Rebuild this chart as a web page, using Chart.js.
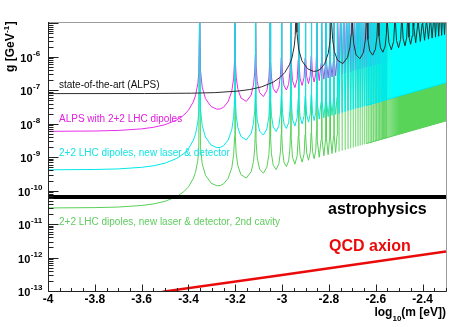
<!DOCTYPE html>
<html><head><meta charset="utf-8">
<script src="https://cdn.jsdelivr.net/npm/chart.js@4.4.0/dist/chart.umd.min.js"></script>
<style>html,body{margin:0;padding:0;background:#fff;}canvas{display:block;}</style>
</head><body>
<canvas id="c" width="471" height="327"></canvas>
<script>
// ---------- axis ticks ----------
const xTickValues = [-4, -3.8, -3.6, -3.4, -3.2, -3, -2.8, -2.6, -2.4];
const xTickLabels = ['-4', '-3.8', '-3.6', '-3.4', '-3.2', '-3', '-2.8', '-2.6', '-2.4'];
const yTickExponents = [-13, -12, -11, -10, -9, -8, -7, -6];
const yTickBase = '10';
const yTickExpLabels = ['-13', '-12', '-11', '-10', '-9', '-8', '-7', '-6'];

// ---------- data: log10(m [eV]) and log10(g [GeV^-1]); -4.5 = off-scale peak ----------
const lhcLogM = [-4.000,-3.800,-3.700,-3.600,-3.550,-3.500,-3.450,-3.420,-3.400,-3.380,-3.370,-3.360,-3.356,-3.352,
-3.3488,-3.3414,-3.3274,-3.3035,-3.2789,-3.2640,-3.2499,-3.2305,-3.2149,-3.2070,-3.2031,-3.2015,
-3.1999,-3.1961,-3.1888,-3.1759,-3.1530,-3.1323,-3.1223,-3.1171,-3.1145,-3.1134,
-3.1113,-3.1063,-3.0961,-3.0800,-3.0650,-3.0565,-3.0526,-3.0510,
-3.0493,-3.0456,-3.0378,-3.0254,-3.0137,-3.0069,-3.0038,-3.0025,
-3.0012,-2.9982,-2.9919,-2.9818,-2.9722,-2.9666,-2.9640,-2.9629,
-2.9611,-2.9558,-2.9455,-2.9357,-2.9310,-2.9294,
-2.9279,-2.9233,-2.9145,-2.9060,-2.9018,-2.9005,
-2.8991,-2.8951,-2.8873,-2.8798,-2.8761,-2.8749,
-2.8737,-2.8701,-2.8631,-2.8564,-2.8531,-2.8520,
-2.8498,-2.8414,-2.8333,-2.8313,
-2.8293,-2.8217,-2.8142,-2.8124,
-2.8106,-2.8035,-2.7967,-2.7950,
-2.7934,-2.7868,-2.7805,-2.7789,
-2.7774,-2.7713,-2.7654,-2.7640,
-2.7568,-2.7499,-2.7433,-2.7368,-2.7305,-2.7244,-2.7184,-2.7126,-2.7070,-2.7015,
-2.6961,-2.6909,-2.6858,-2.6808,-2.6759,-2.6711,-2.6665,-2.6619,-2.6574,-2.6530,
-2.6487,-2.6445,-2.6404,-2.6363,-2.6323,-2.6284,-2.6246,-2.6208,-2.6171,-2.6134,
-2.6098,-2.6063,-2.6028,-2.5994,-2.5961,-2.5927,-2.5895,-2.5863,-2.5831,-2.5800,
-2.5769,-2.5738,-2.5709,-2.5679,-2.5650,-2.5621,-2.5593,-2.5565,-2.5537,-2.5510];

const cyanLogG = [-9.378,-9.368,-9.351,-9.304,-9.258,-9.179,-9.038,-8.893,-8.745,-8.506,-8.315,-7.953,-7.649,-4.5,
-7.550,-8.056,-8.400,-8.636,-8.715,-8.707,-8.657,-8.490,-8.175,-7.787,-7.258,-4.5,
-7.252,-7.765,-8.122,-8.380,-8.485,-8.293,-7.989,-7.607,-7.081,-4.5,
-7.375,-7.881,-8.220,-8.339,-8.158,-7.782,-7.258,-4.5,
-7.251,-7.760,-8.104,-8.230,-8.056,-7.683,-7.161,-4.5,
-7.155,-7.665,-8.012,-8.142,-7.973,-7.602,-7.081,-4.5,
-7.295,-7.859,-8.070,-7.819,-7.235,-4.5,
-7.229,-7.794,-8.008,-7.760,-7.176,-4.5,
-7.171,-7.738,-7.953,-7.707,-7.125,-4.5,
-7.120,-7.688,-7.905,-7.661,-7.079,-4.5,
-7.369,-7.862,-7.335,-4.5,
-7.328,-7.822,-7.297,-4.5,
-7.290,-7.786,-7.262,-4.5,
-7.256,-7.752,-7.230,-4.5,
-7.224,-7.721,-7.200,-4.5,
-7.692,-4.5,-7.665,-4.5,-7.640,-4.5,-7.616,-4.5,-7.593,-4.5,
-7.571,-4.5,-7.550,-4.5,-7.531,-4.5,-7.512,-4.5,-7.494,-4.5,
-7.476,-4.5,-7.460,-4.5,-7.443,-4.5,-7.428,-4.5,-7.413,-4.5,
-7.398,-4.5,-7.384,-4.5,-7.371,-4.5,-7.358,-4.5,-7.345,-4.5,
-7.333,-4.5,-7.321,-4.5,-7.309,-4.5,-7.297,-4.5,-7.286,-4.5];

const greenLogG = [-10.518,-10.508,-10.491,-10.444,-10.398,-10.319,-10.178,-10.033,-9.885,-9.646,-9.455,-9.093,-8.789,-4.5,
-8.690,-9.196,-9.540,-9.776,-9.855,-9.847,-9.797,-9.630,-9.315,-8.927,-8.398,-4.5,
-8.392,-8.905,-9.262,-9.520,-9.625,-9.433,-9.129,-8.747,-8.221,-4.5,
-8.515,-9.021,-9.360,-9.479,-9.298,-8.922,-8.398,-4.5,
-8.391,-8.900,-9.244,-9.370,-9.196,-8.823,-8.301,-4.5,
-8.295,-8.805,-9.152,-9.282,-9.113,-8.742,-8.221,-4.5,
-8.435,-8.999,-9.210,-8.959,-8.375,-4.5,
-8.369,-8.934,-9.148,-8.900,-8.316,-4.5,
-8.311,-8.878,-9.093,-8.847,-8.265,-4.5,
-8.260,-8.828,-9.045,-8.801,-8.219,-4.5,
-8.509,-9.002,-8.475,-4.5,
-8.468,-8.962,-8.437,-4.5,
-8.430,-8.926,-8.402,-4.5,
-8.396,-8.892,-8.370,-4.5,
-8.364,-8.861,-8.340,-4.5,
-8.832,-4.5,-8.805,-4.5,-8.780,-4.5,-8.756,-4.5,-8.733,-4.5,
-8.711,-4.5,-8.690,-4.5,-8.671,-4.5,-8.652,-4.5,-8.634,-4.5,
-8.616,-4.5,-8.600,-4.5,-8.583,-4.5,-8.568,-4.5,-8.553,-4.5,
-8.538,-4.5,-8.524,-4.5,-8.511,-4.5,-8.498,-4.5,-8.485,-4.5,
-8.473,-4.5,-8.461,-4.5,-8.449,-4.5,-8.437,-4.5,-8.426,-4.5];

const magentaLogG = [-8.228,-8.218,-8.201,-8.154,-8.108,-8.029,-7.888,-7.743,-7.595,-7.356,-7.165,-6.803,-6.499,-4.5,
-6.400,-6.906,-7.250,-7.486,-7.565,-7.557,-7.507,-7.340,-7.025,-6.637,-6.108,-4.5,
-6.102,-6.615,-6.972,-7.230,-7.335,-7.143,-6.839,-6.457,-5.931,-4.5,
-6.225,-6.731,-7.070,-7.189,-7.008,-6.632,-6.108,-4.5,
-6.101,-6.610,-6.954,-7.080,-6.906,-6.533,-6.011,-4.5,
-6.005,-6.515,-6.862,-6.992,-6.823,-6.452,-5.931,-4.5,
-6.145,-6.709,-6.920,-6.669,-6.085,-4.5,
-6.079,-6.644,-6.858,-6.610,-6.026,-4.5,
-6.021,-6.588,-6.803,-6.557,-5.975,-4.5,
-5.970,-6.538,-6.755,-6.511,-5.929,-4.5,
-6.219,-6.712,-6.185,-4.5,
-6.178,-6.672,-6.147,-4.5,
-6.140,-6.636,-6.112,-4.5,
-6.106,-6.602,-6.080,-4.5,
-6.074,-6.571,-6.050,-4.5,
-6.542,-4.5,-6.515,-4.5,-6.490,-4.5,-6.466,-4.5,-6.443,-4.5,
-6.421,-4.5,-6.400,-4.5,-6.381,-4.5,-6.362,-4.5,-6.344,-4.5,
-6.326,-4.5,-6.310,-4.5,-6.293,-4.5,-6.278,-4.5,-6.263,-4.5,
-6.248,-4.5,-6.234,-4.5,-6.221,-4.5,-6.208,-4.5,-6.195,-4.5,
-6.183,-4.5,-6.171,-4.5,-6.159,-4.5,-6.147,-4.5,-6.136,-4.5];

// dense (unresolved) part of the LHC curves: lower envelope, filled up to the top
const lhcBandLogM = [-2.640, -2.572, -2.502, -2.402, -2.300];
const cyanBandLogG = [-7.452, -7.317, -7.179, -6.980, -6.777];
const greenBandLogG = [-8.592, -8.457, -8.319, -8.120, -7.917];

// state-of-the-art ALPS
const alpsLogM = [-4.000,-3.588,-3.388,-3.288,-3.188,-3.138,-3.088,-3.038,-3.008,-2.988,-2.968,-2.958,-2.948,-2.944,-2.940,
-2.9368,-2.9294,-2.9154,-2.8915,-2.8669,-2.8520,-2.8379,-2.8185,-2.8029,-2.7950,-2.7911,-2.7895,
-2.7879,-2.7841,-2.7768,-2.7639,-2.7410,-2.7203,-2.7103,-2.7051,-2.7025,-2.7014,
-2.6993,-2.6943,-2.6841,-2.6680,-2.6530,-2.6445,-2.6406,-2.6390,
-2.6373,-2.6336,-2.6258,-2.6134,-2.6017,-2.5949,-2.5918,-2.5905,
-2.5892,-2.5862,-2.5799,-2.5698,-2.5602,-2.5546,-2.5520,-2.5509,
-2.5491,-2.5438,-2.5335,-2.5237,-2.5190,-2.5174,
-2.5159,-2.5113,-2.5025,-2.4940,-2.4898,-2.4885,
-2.4871,-2.4831,-2.4753,-2.4678,-2.4641,-2.4629,
-2.4617,-2.4581,-2.4511,-2.4444,-2.4411,-2.4400,
-2.4378,-2.4294,-2.4213,-2.4193,
-2.4173,-2.4097,-2.4022,-2.4004,
-2.3986,-2.3915,-2.3847,-2.3830,
-2.3814,-2.3748,-2.3685,-2.3669,
-2.3654,-2.3593,-2.3534,-2.3520,
-2.3448,-2.3379,-2.3313,-2.3248,-2.3185,-2.3124,-2.3064,-2.3006,-2.2950];
const alpsLogG = [-7.100,-7.098,-7.088,-7.071,-7.024,-6.978,-6.899,-6.758,-6.613,-6.465,-6.226,-6.035,-5.673,-5.369,-4.5,
-5.270,-5.776,-6.120,-6.356,-6.435,-6.427,-6.377,-6.210,-5.895,-5.507,-4.978,-4.5,
-4.972,-5.485,-5.842,-6.100,-6.205,-6.013,-5.709,-5.327,-4.801,-4.5,
-5.095,-5.601,-5.940,-6.059,-5.878,-5.502,-4.978,-4.5,
-4.971,-5.480,-5.824,-5.950,-5.776,-5.403,-4.881,-4.5,
-4.875,-5.385,-5.732,-5.862,-5.693,-5.322,-4.801,-4.5,
-5.015,-5.579,-5.790,-5.539,-4.955,-4.5,
-4.949,-5.514,-5.728,-5.480,-4.896,-4.5,
-4.891,-5.458,-5.673,-5.427,-4.845,-4.5,
-4.840,-5.408,-5.625,-5.381,-4.799,-4.5,
-5.089,-5.582,-5.055,-4.5,
-5.048,-5.542,-5.017,-4.5,
-5.010,-5.506,-4.982,-4.5,
-4.976,-5.472,-4.950,-4.5,
-4.944,-5.441,-4.920,-4.5,
-5.412,-4.5,-5.385,-4.5,-5.360,-4.5,-5.336,-4.5,-5.313];

// astrophysics bound and QCD axion line
const astroLogM = [-4.0, -2.3];
const astroLogG = [-10.19, -10.19];
const qcdLogM = [-3.51, -3.0, -2.3];
const qcdLogG = [-13.02, -12.52, -11.82];

// ---------- texts ----------
const labelState = 'state-of-the-art (ALPS)';
const labelMagenta = 'ALPS with 2+2 LHC dipoles';
const labelCyan = '2+2 LHC dipoles, new laser & detector';
const labelGreen = '2+2 LHC dipoles, new laser & detector, 2nd cavity';
const labelAstro = 'astrophysics';
const labelQCD = 'QCD axion';
const yTitleMain = 'g [GeV';
const yTitleSup = '-1';
const yTitleEnd = ']';
const xTitleA = 'log';
const xTitleSub = '10';
const xTitleB = '(m [eV])';

// ---------- colours ----------
const C_CYAN = 'rgb(0,232,232)';
const C_MAG = 'rgb(232,45,232)';
const C_GREEN = 'rgb(88,208,88)';
const C_GREEN_DENSE = 'rgba(88,208,88,0.55)';
const C_BLACK = 'rgb(45,45,45)';
const C_RED = 'rgb(235,10,10)';

const FONT = '"Liberation Sans", Arial, Helvetica, sans-serif';
const toPts = (xs, ys) => xs.map((x, i) => ({x: x, y: ys[i]}));

function bandFill(rgb, v0, v1, a0) {
  return (context) => {
    const chart = context.chart;
    if (!chart.chartArea) return 'rgba(' + rgb + ',1)';
    const xs = chart.scales.x;
    const g = chart.ctx.createLinearGradient(xs.getPixelForValue(v0), 0, xs.getPixelForValue(v1), 0);
    g.addColorStop(0, 'rgba(' + rgb + ',' + a0 + ')');
    g.addColorStop(1, 'rgba(' + rgb + ',1)');
    return g;
  };
}

const axesPlugin = {
  id: 'rootAxes',
  afterDatasetsDraw(chart) {
    const ctx = chart.ctx, a = chart.chartArea, x = chart.scales.x, y = chart.scales.y;
    ctx.save();
    ctx.lineWidth = 1;
    ctx.strokeStyle = '#9c9c9c';
    ctx.beginPath();
    ctx.moveTo(a.left, Math.round(a.top) + 0.5);
    ctx.lineTo(Math.round(a.right) + 0.5, Math.round(a.top) + 0.5);
    ctx.lineTo(Math.round(a.right) + 0.5, a.bottom);
    ctx.stroke();
    ctx.strokeStyle = '#222';
    const L = Math.round(a.left) + 0.5, B = Math.round(a.bottom) + 0.5;
    ctx.beginPath();
    ctx.moveTo(L, a.top); ctx.lineTo(L, B); ctx.lineTo(a.right + 0.5, B);
    ctx.stroke();
    ctx.beginPath();
    for (let k = 0; k <= 34; k++) {
      const v = -4 + 0.05 * k;
      const px = Math.round(x.getPixelForValue(v)) + 0.5;
      const len = (k % 4 === 0) ? 7 : 3.5;
      ctx.moveTo(px, B); ctx.lineTo(px, B - len);
    }
    for (let e = -13; e <= -5; e++) {
      for (let k = 1; k <= 9; k++) {
        const v = e + Math.log10(k);
        if (v > y.max + 1e-9) continue;
        const py = Math.round(y.getPixelForValue(v)) + 0.5;
        const len = (k === 1) ? 10 : 5;
        ctx.moveTo(L, py); ctx.lineTo(L + len, py);
      }
    }
    ctx.stroke();
    ctx.fillStyle = '#000';
    ctx.font = 'bold 12px ' + FONT;
    ctx.textAlign = 'center';
    ctx.textBaseline = 'middle';
    xTickValues.forEach((v, i) => {
      ctx.fillText(xTickLabels[i], x.getPixelForValue(v), a.bottom + 9);
    });
    yTickExponents.forEach((e, i) => {
      const py = y.getPixelForValue(e);
      ctx.font = 'bold 11px ' + FONT;
      const wb = ctx.measureText(yTickBase).width;
      ctx.font = 'bold 8px ' + FONT;
      const we = ctx.measureText(yTickExpLabels[i]).width;
      const x0 = 30 - (wb + we) / 2;
      ctx.textAlign = 'left';
      ctx.textBaseline = 'middle';
      ctx.font = 'bold 11px ' + FONT;
      ctx.fillText(yTickBase, x0, py + 2);
      ctx.font = 'bold 8px ' + FONT;
      ctx.fillText(yTickExpLabels[i], x0 + wb + 0.5, py - 3);
    });
    ctx.textBaseline = 'alphabetic';
    ctx.textAlign = 'left';
    ctx.font = 'bold 12px ' + FONT;
    const wA = ctx.measureText(xTitleA).width, wB = ctx.measureText(xTitleB).width;
    ctx.font = 'bold 8px ' + FONT;
    const wS = ctx.measureText(xTitleSub).width;
    let xs = a.right - (wA + wS + wB);
    ctx.font = 'bold 12px ' + FONT;
    ctx.fillText(xTitleA, xs, 316);
    ctx.font = 'bold 8px ' + FONT;
    ctx.fillText(xTitleSub, xs + wA, 321);
    ctx.font = 'bold 12px ' + FONT;
    ctx.fillText(xTitleB, xs + wA + wS, 316);
    ctx.save();
    ctx.translate(14, 72);
    ctx.rotate(-Math.PI / 2);
    ctx.font = 'bold 12px ' + FONT;
    const w1 = ctx.measureText(yTitleMain).width;
    ctx.fillText(yTitleMain, 0, 0);
    ctx.font = 'bold 8px ' + FONT;
    const w2 = ctx.measureText(yTitleSup).width;
    ctx.fillText(yTitleSup, w1 + 0.5, -5);
    ctx.font = 'bold 12px ' + FONT;
    ctx.fillText(yTitleEnd, w1 + w2 + 1, 0);
    ctx.restore();
    ctx.textAlign = 'left';
    ctx.textBaseline = 'middle';
    ctx.font = '10px ' + FONT;
    ctx.fillStyle = '#111'; ctx.fillText(labelState, 59, 85.5);
    ctx.fillStyle = 'rgb(225,30,225)'; ctx.fillText(labelMagenta, 59, 119);
    ctx.fillStyle = 'rgb(20,228,228)'; ctx.fillText(labelCyan, 59, 153.5);
    ctx.fillStyle = 'rgb(95,205,95)'; ctx.fillText(labelGreen, 59, 222);
    ctx.font = 'bold 16px ' + FONT;
    ctx.fillStyle = '#000'; ctx.fillText(labelAstro, 328, 209.5);
    ctx.fillStyle = C_RED; ctx.fillText(labelQCD, 329, 246.5);
    ctx.restore();
  }
};

const line = (data, color, width, order, extra) => Object.assign({
  data: data, borderColor: color, borderWidth: width, pointRadius: 0,
  fill: false, tension: 0, order: order
}, extra || {});

new Chart(document.getElementById('c').getContext('2d'), {
  type: 'line',
  data: {
    datasets: [
      line(toPts(qcdLogM, qcdLogG), C_RED, 2.6, 1),
      line(toPts(astroLogM, astroLogG), '#000', 4, 2),
      line(toPts(alpsLogM, alpsLogG), C_BLACK, 1, 3),
      line(toPts(lhcLogM, cyanLogG), C_CYAN, 1, 4),
      line(toPts(lhcBandLogM, cyanBandLogG), C_CYAN, 1, 5,
        {fill: 'end', backgroundColor: bandFill('0,255,255', -2.640, -2.53, 0)}),
      line(toPts(lhcLogM, magentaLogG), C_MAG, 1, 6),
      line(toPts(lhcLogM, greenLogG), C_GREEN, 1, 7,
        {segment: {borderColor: (s) => s.p0.parsed.x > -2.765 ? C_GREEN_DENSE : undefined}}),
      line(toPts(lhcBandLogM, greenBandLogG), C_GREEN, 1, 8,
        {fill: 'end', backgroundColor: bandFill('88,212,88', -2.640, -2.50, 0.1)})
    ]
  },
  options: {
    responsive: false,
    animation: false,
    events: [],
    layout: {padding: {left: 48, right: 25, top: 22, bottom: 36}},
    plugins: {legend: {display: false}, tooltip: {enabled: false}},
    scales: {
      x: {type: 'linear', min: -4, max: -2.3, display: false},
      y: {type: 'linear', min: -13, max: -4.96, display: false}
    }
  },
  plugins: [axesPlugin]
});
</script>
</body></html>
